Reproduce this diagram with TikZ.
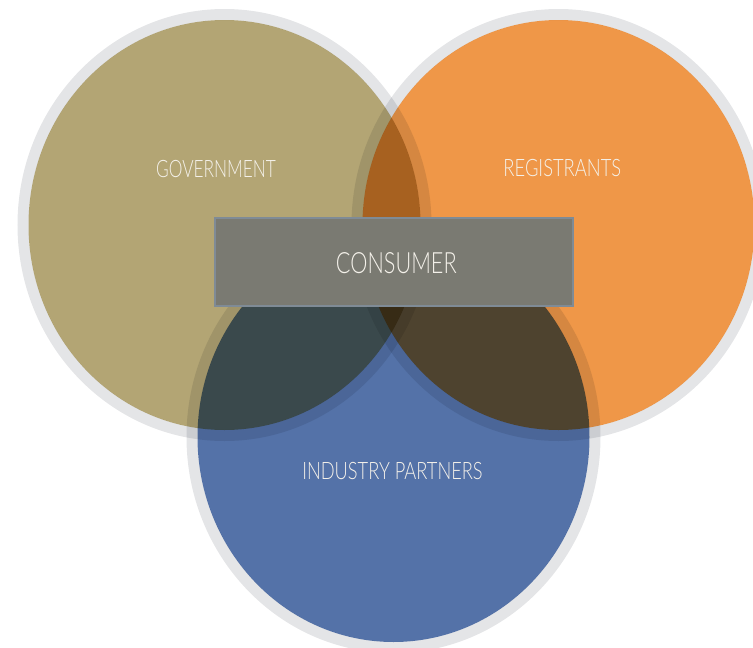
\documentclass[tikz,border=0pt]{standalone}
\usepackage{fontspec}
\newfontfamily\labelfont{Lato Light}
\definecolor{govtan}{HTML}{B3A574}
\definecolor{regorange}{HTML}{EF9748}
\definecolor{indblue}{HTML}{5472A8}
\definecolor{ringgray}{HTML}{E4E5E7}
\definecolor{boxfill}{HTML}{7A7A72}
\definecolor{boxedge}{HTML}{7F8B96}
\definecolor{labelwhite}{HTML}{F4F1EA}
% horizontally condensed text
\newcommand{\narrowtext}[2]{\scalebox{#1}[1]{#2}}

\begin{document}
\begin{tikzpicture}[x=1pt,y=-1pt,
  ring/.style={draw=ringgray, line width=11pt, blend mode=multiply},
  disc/.style={fill=#1, blend mode=multiply},
  setlabel/.style={text=labelwhite, inner sep=0pt,
    font=\labelfont\fontsize{24}{24}\selectfont},
  centrebox/.style={draw=boxedge, line width=2pt, fill=boxfill,
    minimum width=358pt, minimum height=88pt, inner sep=0pt},
  centretext/.style={text=labelwhite, inner sep=0pt,
    font=\labelfont\fontsize{29.3}{30}\selectfont}]

\useasboundingbox (0,0) rectangle (753,648);

% three overlapping sets, each a coloured disc in a pale rim
\path[ring] (224.5,225) ellipse [x radius=201.5, y radius=210.5];
\path[disc=govtan] (224.5,225) ellipse [x radius=196, y radius=205];

\path[ring] (558.5,225) ellipse [x radius=201.5, y radius=210.5];
\path[disc=regorange] (558.5,225) ellipse [x radius=196, y radius=205];

\path[ring] (393.5,437) ellipse [x radius=201.5, y radius=210.5];
\path[disc=indblue] (393.5,437) ellipse [x radius=196, y radius=205];

% set names
\node[setlabel] (gov) at (216,168.7) {\narrowtext{0.72}{GOVERNMENT}};
\node[setlabel] (reg) at (562.3,168) {\narrowtext{0.765}{REGISTRANTS}};
\node[setlabel] (ind) at (392.5,471) {\narrowtext{0.76}{INDUSTRY PARTNERS}};

% shared centre
\node[centrebox] (con) at (394,261.7) {};
\node[centretext] (contxt) at (396.3,263.3) {\narrowtext{0.74}{CONSUMER}};
\end{tikzpicture}
\end{document}
